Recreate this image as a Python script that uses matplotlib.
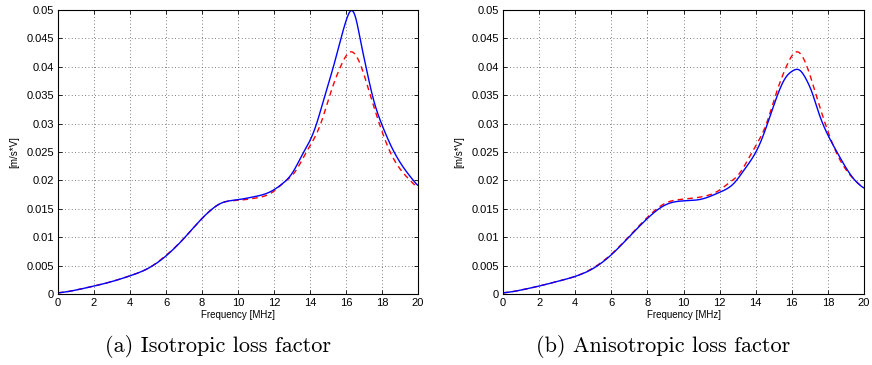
import numpy as np
import matplotlib
matplotlib.use("Agg")
import matplotlib.pyplot as plt

# ---- data ----
freq_a_blue = [0, 0.5, 1, 2, 3, 4, 5, 6, 7, 8, 8.5, 9, 10, 10.7, 11.8, 12.5, 13.0, 13.65, 14.0, 14.37, 14.83, 15.3, 15.72, 16.04, 16.26, 16.56, 16.78, 17.11, 17.46, 17.97, 18.67, 19.74, 20]
iso_blue = [0.0002, 0.0004, 0.0007, 0.0014, 0.0022, 0.0032, 0.0045, 0.0067, 0.0098, 0.0133, 0.0148, 0.0159, 0.0166, 0.0170, 0.0180, 0.0195, 0.0212, 0.0250, 0.0270, 0.0300, 0.0350, 0.0400, 0.0450, 0.0485, 0.0500, 0.0485, 0.0450, 0.0400, 0.0350, 0.0300, 0.0250, 0.0200, 0.0190]

freq_a_red = [0, 0.5, 1, 2, 3, 4, 5, 6, 7, 8, 8.5, 9, 10, 11, 12, 12.5, 13.1, 13.8, 14.6, 15.1, 15.69, 16.3, 16.85, 17.35, 17.85, 18.45, 19.56, 20]
iso_red = [0.0002, 0.0004, 0.0007, 0.0014, 0.0022, 0.0032, 0.0045, 0.0068, 0.0098, 0.0133, 0.0148, 0.0159, 0.0165, 0.0169, 0.0181, 0.0195, 0.0212, 0.0250, 0.0300, 0.0350, 0.0400, 0.0427, 0.0400, 0.0350, 0.0300, 0.0250, 0.0200, 0.0186]

freq_b_blue = [0, 0.5, 1, 2, 3, 4, 5, 6, 7, 8, 9, 10, 11, 12, 12.8, 13.35, 13.87, 14.24, 14.6, 14.98, 15.35, 15.72, 16.05, 16.3, 16.55, 16.8, 17.1, 17.5, 17.95, 18.5, 19.5, 20]
aniso_blue = [0.0002, 0.0004, 0.0007, 0.0014, 0.0022, 0.0031, 0.0045, 0.0069, 0.0101, 0.0133, 0.0157, 0.0164, 0.0167, 0.0179, 0.0195, 0.0218, 0.0242, 0.0265, 0.0295, 0.0330, 0.0362, 0.0384, 0.0393, 0.0396, 0.0391, 0.0378, 0.0357, 0.0318, 0.0283, 0.0250, 0.0200, 0.0186]

freq_b_red = [0, 0.5, 1, 2, 3, 4, 5, 6, 7, 8, 9, 10, 11, 12, 12.5, 13.1, 13.8, 14.6, 15.1, 15.69, 16.3, 16.85, 17.35, 17.85, 18.45, 19.5, 20]
aniso_red = [0.0002, 0.0004, 0.0007, 0.0014, 0.0022, 0.0031, 0.0046, 0.0070, 0.0102, 0.0135, 0.0160, 0.0167, 0.0171, 0.0183, 0.0195, 0.0212, 0.0250, 0.0300, 0.0350, 0.0400, 0.0427, 0.0400, 0.0350, 0.0300, 0.0250, 0.0200, 0.0186]

x_ticks = [0, 2, 4, 6, 8, 10, 12, 14, 16, 18, 20]
y_ticks = [0, 0.005, 0.01, 0.015, 0.02, 0.025, 0.03, 0.035, 0.04, 0.045, 0.05]
y_ticklabels = ["0", "0.005", "0.01", "0.015", "0.02", "0.025", "0.03", "0.035", "0.04", "0.045", "0.05"]
captions = ["(a) Isotropic loss factor", "(b) Anisotropic loss factor"]

plt.rcParams['font.family'] = ['Liberation Sans', 'DejaVu Sans']

fig = plt.figure(figsize=(8.72, 3.65), dpi=100)
ax1 = fig.add_axes([58/872, 71/365, 360/872, 284/365])
ax2 = fig.add_axes([503/872, 71/365, 361/872, 284/365])

def smooth(x, y):
    """Natural cubic spline through the read points, lightly averaged."""
    x = np.asarray(x, float); y = np.asarray(y, float)
    n = len(x)
    h = np.diff(x)
    A = np.zeros((n, n)); r = np.zeros(n)
    A[0, 0] = A[-1, -1] = 1.0
    for i in range(1, n - 1):
        A[i, i-1] = h[i-1]; A[i, i] = 2*(h[i-1] + h[i]); A[i, i+1] = h[i]
        r[i] = 6*((y[i+1]-y[i])/h[i] - (y[i]-y[i-1])/h[i-1])
    M = np.linalg.solve(A, r)
    xs = np.linspace(x[0], x[-1], 800)
    idx = np.clip(np.searchsorted(x, xs) - 1, 0, n - 2)
    xi, xj = x[idx], x[idx+1]; hi = h[idx]
    ys = (M[idx]*(xj-xs)**3 + M[idx+1]*(xs-xi)**3)/(6*hi) \
        + (y[idx]/hi - M[idx]*hi/6)*(xj-xs) + (y[idx+1]/hi - M[idx+1]*hi/6)*(xs-xi)
    k = 11
    ker = np.ones(k)/k
    ypad = np.concatenate([np.full(k//2, ys[0]), ys, np.full(k//2, ys[-1])])
    ys2 = np.convolve(ypad, ker, mode='valid')
    return xs, ys2

for ax, (xb, yb), (xr, yr) in [
    (ax1, (freq_a_blue, iso_blue), (freq_a_red, iso_red)),
    (ax2, (freq_b_blue, aniso_blue), (freq_b_red, aniso_red)),
]:
    ax.plot(*smooth(xr, yr), color='red', linestyle=(0, (4, 3)), linewidth=1.0)
    ax.plot(*smooth(xb, yb), color='blue', linestyle='-', linewidth=1.0)
    ax.set_xlim(0, 20)
    ax.set_ylim(0, 0.05)
    ax.set_xticks(x_ticks)
    ax.set_xticklabels([str(v) for v in x_ticks])
    ax.set_yticks(y_ticks)
    ax.set_yticklabels(y_ticklabels)
    ax.tick_params(direction='in', top=True, right=True, labelsize=8, length=3, width=0.6, pad=3)
    ax.grid(True, linestyle=(0, (1, 3)), color='#555555', linewidth=0.6)
    for s in ax.spines.values():
        s.set_linewidth(0.8)
    ax.set_xlabel('Frequency [MHz]', fontsize=7, labelpad=1)
    ax.set_ylabel('[m/s*V]', fontsize=7, labelpad=5)

fig.text(218/872, 1 - 346/365, captions[0], ha='center', va='center', fontsize=16, family='cmr10')
fig.text(663/872, 1 - 346/365, captions[1], ha='center', va='center', fontsize=16, family='cmr10')

fig.savefig('out.png', dpi=100)
